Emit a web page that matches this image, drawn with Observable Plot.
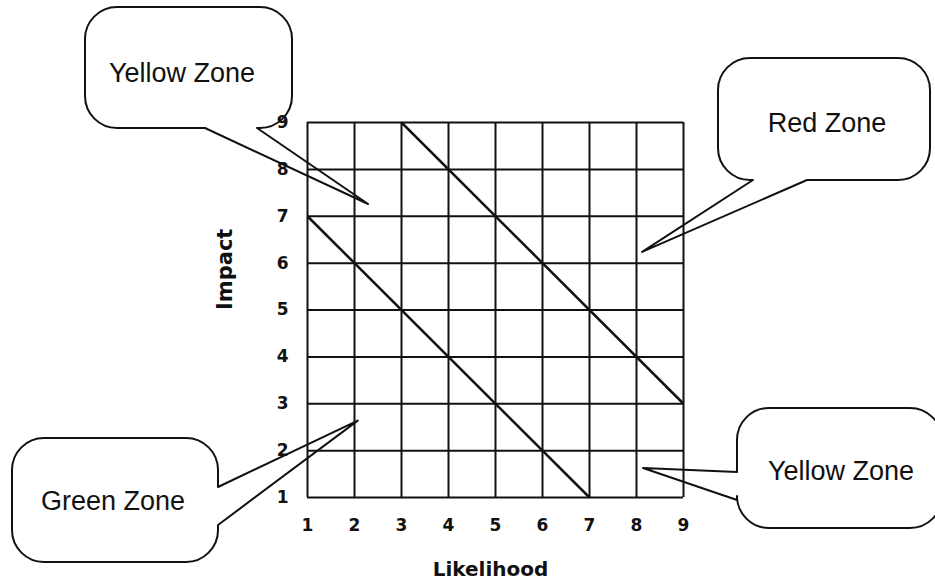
<!DOCTYPE html>
<html>
<head>
<meta charset="utf-8">
<script src="https://cdn.jsdelivr.net/npm/d3@7"></script>
<script src="https://cdn.jsdelivr.net/npm/@observablehq/plot@0.6"></script>
<style>
  html, body { margin: 0; padding: 0; background: #fff; }
</style>
</head>
<body>
<div id="chart"></div>
<script>
// ---- data ----
const likelihoodTicks = [1, 2, 3, 4, 5, 6, 7, 8, 9];
const impactTicks = [1, 2, 3, 4, 5, 6, 7, 8, 9];

// zone boundary diagonals (likelihood, impact)
const boundaryStartLikelihood = [1, 3];
const boundaryStartImpact = [7, 9];
const boundaryEndLikelihood = [7, 9];
const boundaryEndImpact = [1, 3];

// callouts: zone names and the grid point each one points at
const zoneNames = ["Yellow Zone", "Red Zone", "Green Zone", "Yellow Zone"];
const zoneTargetLikelihood = [2.3, 8.13, 2.08, 8.15];
const zoneTargetImpact = [7.25, 6.23, 2.63, 1.62];

const xLabel = "Likelihood";
const yLabel = "Impact";

// ---- layout for the callout bubbles (pixels) ----
const calloutLayout = [
  {box: [85, 7, 292, 128], r: 32, side: "bottom", base: [257, 205], text: [182, 82]},
  {box: [718, 58, 930, 180], r: 32, side: "bottom", base: [807, 753], text: [827, 132]},
  {box: [12, 438, 218, 562], r: 32, side: "right", base: [487, 525], text: [113, 510]},
  {box: [737, 408, 942, 528], r: 32, side: "left", base: [500, 472], text: [841, 480]}
];

const boundaries = boundaryStartLikelihood.map((d, i) => ({
  x1: d, y1: boundaryStartImpact[i], x2: boundaryEndLikelihood[i], y2: boundaryEndImpact[i]
}));

const font = "'Liberation Sans', Arial, Helvetica, sans-serif";
const boldFont = "'DejaVu Sans', 'Liberation Sans', sans-serif";

const chart = Plot.plot({
  width: 935,
  height: 582,
  marginLeft: 307,
  marginRight: 252,
  marginTop: 122,
  marginBottom: 85,
  style: {fontFamily: boldFont, fontSize: "16px", color: "#111", background: "#fff"},
  x: {domain: [1, 9], axis: null},
  y: {domain: [1, 9], axis: null},
  marks: [
    Plot.ruleX(likelihoodTicks, {stroke: "#111", strokeWidth: 2}),
    Plot.ruleY(impactTicks, {stroke: "#111", strokeWidth: 2}),
    Plot.link(boundaries, {x1: "x1", y1: "y1", x2: "x2", y2: "y2", stroke: "#111", strokeWidth: 2.5}),
    // tick labels
    Plot.text(likelihoodTicks, {x: d => d, text: d => String(d), frameAnchor: "bottom", lineAnchor: "middle", dy: 28, fontFamily: boldFont, fontSize: 17, fontWeight: "bold", fill: "#111"}),
    Plot.text(impactTicks, {y: d => d, text: d => String(d), frameAnchor: "left", lineAnchor: "middle", dx: -19, textAnchor: "end", fontFamily: boldFont, fontSize: 17, fontWeight: "bold", fill: "#111"}),
    // axis titles
    Plot.text([xLabel], {text: d => d, frameAnchor: "bottom", lineAnchor: "middle", dy: 72, dx: -5, fontFamily: boldFont, fontSize: 20, fontWeight: "bold", fill: "#111"}),
    Plot.text([yLabel], {text: d => d, frameAnchor: "left", lineAnchor: "middle", rotate: -90, dx: -82, fontFamily: boldFont, fontSize: 21, fontWeight: "bold", fill: "#111"})
  ]
});

document.getElementById("chart").appendChild(chart);

const svgNode = chart.tagName.toLowerCase() === "svg" ? chart : chart.querySelector("svg");
const svg = d3.select(svgNode);

// ---- callout bubbles, tips placed with the plot's own scales ----
const sx = chart.scale("x"), sy = chart.scale("y");
const g = svg.append("g");

function bubblePath(b, tip) {
  const [x0, y0, x1, y1] = b.box, r = b.r;
  const p = d3.path();
  p.moveTo(x0 + r, y0);
  p.lineTo(x1 - r, y0);
  p.arcTo(x1, y0, x1, y0 + r, r);
  if (b.side === "right") { p.lineTo(x1, b.base[0]); p.lineTo(tip[0], tip[1]); p.lineTo(x1, b.base[1]); }
  p.lineTo(x1, y1 - r);
  p.arcTo(x1, y1, x1 - r, y1, r);
  if (b.side === "bottom") { p.lineTo(b.base[0], y1); p.lineTo(tip[0], tip[1]); p.lineTo(b.base[1], y1); }
  p.lineTo(x0 + r, y1);
  p.arcTo(x0, y1, x0, y1 - r, r);
  if (b.side === "left") { p.lineTo(x0, b.base[0]); p.lineTo(tip[0], tip[1]); p.lineTo(x0, b.base[1]); }
  p.lineTo(x0, y0 + r);
  p.arcTo(x0, y0, x0 + r, y0, r);
  p.closePath();
  return p.toString();
}

zoneNames.forEach((name, i) => {
  const b = calloutLayout[i];
  const tip = [sx.apply(zoneTargetLikelihood[i]), sy.apply(zoneTargetImpact[i])];
  g.append("path")
    .attr("d", bubblePath(b, tip))
    .attr("fill", "none")
    .attr("stroke", "#111")
    .attr("stroke-width", 2)
    .attr("stroke-linejoin", "round");
  g.append("text")
    .attr("x", b.text[0])
    .attr("y", b.text[1])
    .attr("text-anchor", "middle")
    .attr("font-family", font)
    .attr("font-size", 27)
    .attr("font-weight", "normal")
    .attr("fill", "#111")
    .text(name);
});
</script>
</body>
</html>
